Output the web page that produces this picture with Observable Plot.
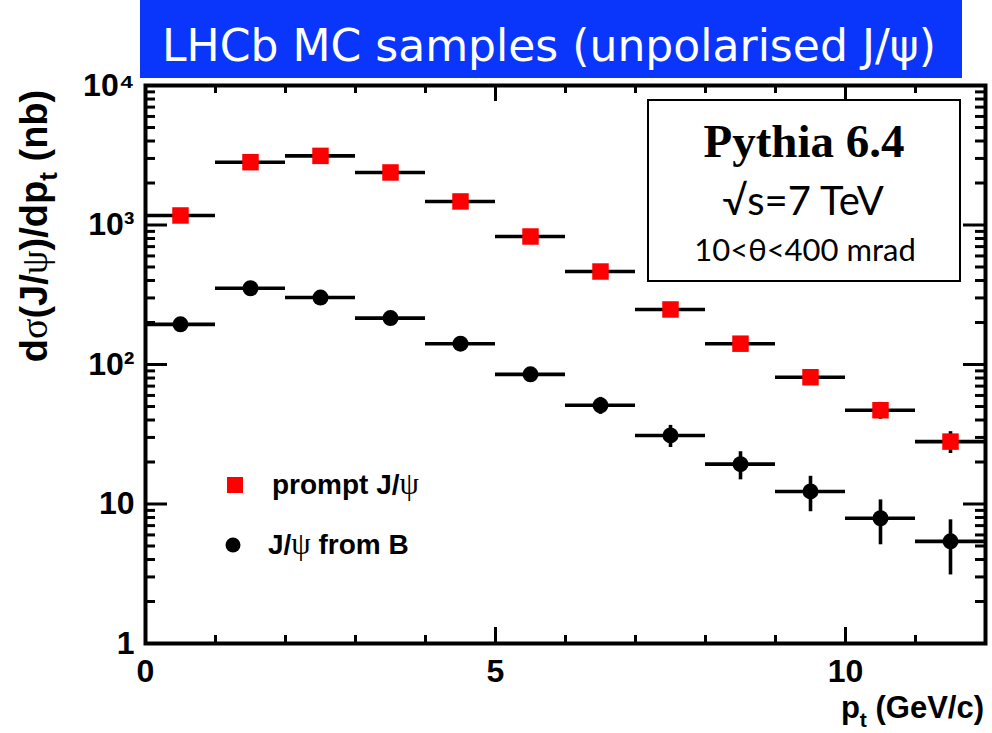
<!DOCTYPE html>
<html>
<head>
<meta charset="utf-8">
<script src="https://cdn.jsdelivr.net/npm/d3@7"></script>
<script src="https://cdn.jsdelivr.net/npm/@observablehq/plot@0.6"></script>
<style>
  html, body { margin: 0; padding: 0; background: #fff; }
  #chart { position: relative; width: 992px; height: 733px; overflow: hidden; }
  #chart > svg.overlay { position: absolute; left: 0; top: 0; pointer-events: none; }
</style>
</head>
<body>
<div id="chart"></div>
<script>
// p_t bins (GeV/c): lower edges, upper edges and centres
const binLow    = [0, 1, 2, 3, 4, 5, 6, 7, 8, 9, 10, 11];
const binHigh   = [1, 2, 3, 4, 5, 6, 7, 8, 9, 10, 11, 12];
const binCentre = [0.5, 1.5, 2.5, 3.5, 4.5, 5.5, 6.5, 7.5, 8.5, 9.5, 10.5, 11.5];

// dσ/dp_t (nb) for prompt J/ψ and its statistical error
const promptValues = [1170, 2820, 3130, 2380, 1475, 827, 464, 248, 141, 81, 47, 28];
const promptErrors = [32, 50, 53, 46, 36, 27, 20, 15, 11, 8.5, 6.5, 5];

// dσ/dp_t (nb) for J/ψ from b-hadron decays and its statistical error
const fromBValues = [194, 352, 302, 215, 141, 85, 51, 31, 19.3, 12.3, 7.9, 5.4];
const fromBErrors = [14, 19, 17, 15, 12, 9.2, 7.1, 5.6, 4.4, 3.5, 2.8, 2.3];

// axis ticks
const xMajorTicks = [0, 5, 10];
const xMinorTicks = [1, 2, 3, 4, 6, 7, 8, 9, 11];
const yMajorTicks = [1, 10, 100, 1000, 10000];
const yTickLabels = ["1", "10", "10²", "10³", "10⁴"];
const yMinorTicks = [1, 10, 100, 1000].flatMap(d => [2, 3, 4, 5, 6, 7, 8, 9].map(m => m * d));

const W = 992, H = 733;
const margin = {top: 85, right: 7, bottom: 90, left: 145};
const frameW = W - margin.left - margin.right;
const frameH = H - margin.top - margin.bottom;

const rows = (values, errors) => binCentre.map((pt, i) => ({
  pt, lo: binLow[i], hi: binHigh[i], v: values[i], e: errors[i]
}));
const prompt = rows(promptValues, promptErrors);
const fromB = rows(fromBValues, fromBErrors);

const font = "'Liberation Sans', Arial, Helvetica, sans-serif";
const ink = "#000";
const barW = 3.6;

// ticks drawn inward from each side of the frame
const tickMarks = (len, minor) => [
  Plot.tickY(minor ? yMinorTicks : yMajorTicks.slice(1, -1), {y: d => d, insetRight: frameW - len, stroke: ink, strokeWidth: 3}),
  Plot.tickY(minor ? yMinorTicks : yMajorTicks.slice(1, -1), {y: d => d, insetLeft: frameW - len, stroke: ink, strokeWidth: 3})
];
const xTickMarks = (ticks, len) => [
  Plot.tickX(ticks, {x: d => d, insetTop: frameH - len, stroke: ink, strokeWidth: 3}),
  Plot.tickX(ticks, {x: d => d, insetBottom: frameH - len, stroke: ink, strokeWidth: 3})
];

const plot = Plot.plot({
  width: W,
  height: H,
  marginTop: margin.top,
  marginRight: margin.right,
  marginBottom: margin.bottom,
  marginLeft: margin.left,
  style: {fontFamily: font, background: "#fff", color: ink},
  x: {domain: [0, 12], label: null},
  y: {type: "log", domain: [1, 10000], label: null},
  marks: [
    ...tickMarks(10, true),
    ...tickMarks(22, false),
    ...xTickMarks(xMinorTicks, 8),
    ...xTickMarks(xMajorTicks.slice(1), 16),
    Plot.axisX({ticks: xMajorTicks, tickSize: 0, tickPadding: 16, fontSize: 32, fontWeight: "bold", label: null, tickFormat: d => String(d)}),
    Plot.axisY({ticks: yMajorTicks, tickSize: 0, tickPadding: 11, fontSize: 32, fontWeight: "bold", label: null,
      tickFormat: d => yTickLabels[yMajorTicks.indexOf(d)]}),
    // horizontal bars: bin widths
    Plot.ruleY(prompt, {y: "v", x1: "lo", x2: "hi", stroke: ink, strokeWidth: barW}),
    Plot.ruleY(fromB, {y: "v", x1: "lo", x2: "hi", stroke: ink, strokeWidth: barW}),
    // vertical bars: statistical errors
    Plot.ruleX(prompt, {x: "pt", y1: d => d.v - d.e, y2: d => d.v + d.e, stroke: ink, strokeWidth: barW}),
    Plot.ruleX(fromB, {x: "pt", y1: d => d.v - d.e, y2: d => d.v + d.e, stroke: ink, strokeWidth: barW}),
    Plot.dot(fromB, {x: "pt", y: "v", r: 8, fill: ink, symbol: "circle"}),
    Plot.dot(prompt, {x: "pt", y: "v", r: 9.3, fill: "#ff0000", symbol: "square"}),
    Plot.frame({stroke: ink, strokeWidth: 4})
  ]
});

const chart = document.getElementById("chart");
chart.appendChild(plot);

// titles, annotation box and legend
const svgNS = "http://www.w3.org/2000/svg";
const overlay = d3.select(chart).append("svg")
  .attr("class", "overlay")
  .attr("xmlns", svgNS)
  .attr("width", W).attr("height", H)
  .attr("viewBox", `0 0 ${W} ${H}`);

// banner
overlay.append("rect").attr("x", 140).attr("y", 0).attr("width", 822).attr("height", 78).attr("fill", "#0a36fb");
overlay.append("text")
  .attr("x", 549).attr("y", 61)
  .attr("text-anchor", "middle")
  .attr("fill", "#fff")
  .attr("font-family", "'DejaVu Sans', sans-serif")
  .attr("font-size", 44)
  .attr("textLength", 774).attr("lengthAdjust", "spacingAndGlyphs")
  .text("LHCb MC samples (unpolarised J/ψ)");

// y-axis title
const yt = overlay.append("text")
  .attr("transform", "translate(47,226) rotate(-90)")
  .attr("text-anchor", "middle")
  .attr("font-family", font).attr("font-weight", "bold").attr("font-size", 38);
yt.append("tspan").text("d");
yt.append("tspan").attr("font-family", "'Liberation Serif', serif").attr("font-weight", "normal").text("σ");
yt.append("tspan").text("(J/");
yt.append("tspan").attr("font-family", "'Liberation Serif', serif").attr("font-weight", "normal").text("ψ");
yt.append("tspan").text(")/dp");
yt.append("tspan").attr("dy", 10).attr("font-size", 26).text("t");
yt.append("tspan").attr("dy", -10).text(" (nb)");

// x-axis title
const xt = overlay.append("text")
  .attr("x", 984).attr("y", 718)
  .attr("text-anchor", "end")
  .attr("font-family", font).attr("font-weight", "bold").attr("font-size", 31);
xt.append("tspan").text("p");
xt.append("tspan").attr("dy", 9).attr("font-size", 21).text("t");
xt.append("tspan").attr("dy", -9).text(" (GeV/c)");

// generator box
overlay.append("rect").attr("x", 648).attr("y", 100).attr("width", 312).attr("height", 181)
  .attr("fill", "#fff").attr("stroke", ink).attr("stroke-width", 2);
overlay.append("text").attr("x", 804).attr("y", 157).attr("text-anchor", "middle")
  .attr("font-family", "'Liberation Serif', 'Times New Roman', serif").attr("font-weight", "bold").attr("font-size", 47)
  .text("Pythia 6.4");
overlay.append("text").attr("x", 803).attr("y", 215).attr("text-anchor", "middle")
  .attr("font-family", "Lato, 'Open Sans', sans-serif").attr("font-size", 40)
  .text("√s=7 TeV");
overlay.append("text").attr("x", 805).attr("y", 261).attr("text-anchor", "middle")
  .attr("font-family", "Lato, 'Open Sans', sans-serif").attr("font-size", 31)
  .text("10<θ<400 mrad");

// legend
const legend = [
  {label: ["prompt J/", "ψ"], y: 485, symbol: "square", color: "#ff0000", tx: 272},
  {label: ["J/", "ψ", " from B"], y: 545, symbol: "circle", color: ink, tx: 268}
];
legend.forEach(item => {
  if (item.symbol === "square") {
    overlay.append("rect").attr("x", 227).attr("y", item.y - 8).attr("width", 16).attr("height", 16).attr("fill", item.color);
  } else {
    overlay.append("circle").attr("cx", 233).attr("cy", item.y).attr("r", 7.5).attr("fill", item.color);
  }
  const t = overlay.append("text").attr("x", item.tx).attr("y", item.y + 9)
    .attr("font-family", font).attr("font-weight", "bold").attr("font-size", 28);
  item.label.forEach(part => {
    const s = t.append("tspan").text(part);
    if (part === "ψ") s.attr("font-family", "'Liberation Serif', serif").attr("font-weight", "normal").attr("font-size", 31);
  });
});
</script>
</body>
</html>
